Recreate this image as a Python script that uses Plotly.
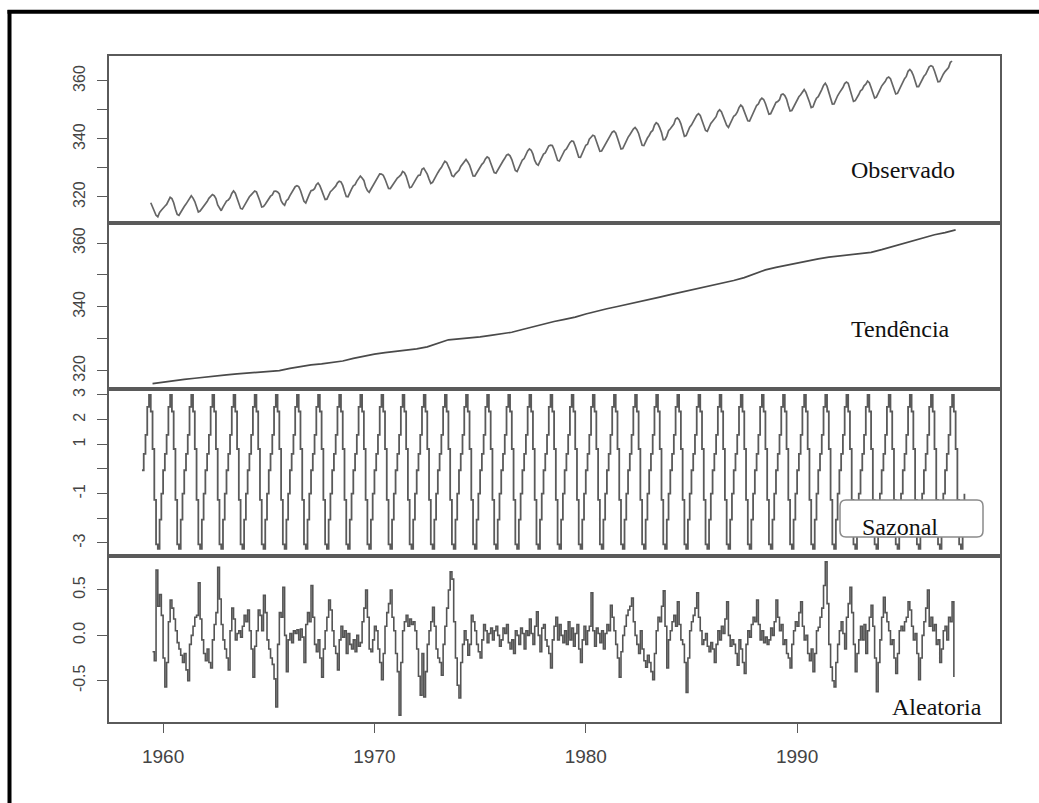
import plotly.graph_objects as go
from plotly.subplots import make_subplots

# ---------------- DATA ----------------
# Observado: monthly CO2, Jun 1959 .. May 1997
OBS_START = 1959 + 5 / 12
OBSERVADO = [
    318.00, 316.39, 314.65, 313.68, 313.18, 314.66, 315.43,
    316.27, 316.81, 317.42, 318.87, 319.87, 319.43, 318.01, 315.74, 314.00, 313.68, 314.84, 316.03,
    316.73, 317.54, 318.38, 319.31, 320.42, 319.61, 318.42, 316.63, 314.83, 315.16, 315.94, 316.85,
    317.78, 318.40, 319.53, 320.42, 320.85, 320.45, 319.45, 317.25, 316.11, 315.27, 316.53, 317.53,
    318.58, 318.92, 319.70, 321.22, 322.08, 321.31, 319.58, 317.61, 316.05, 315.83, 316.91, 318.20,
    319.41, 320.07, 320.74, 321.40, 322.06, 321.73, 320.27, 318.54, 316.54, 316.71, 317.53, 318.55,
    319.27, 320.28, 320.73, 321.97, 322.00, 321.71, 321.05, 318.71, 317.66, 317.14, 318.70, 319.25,
    320.46, 321.43, 322.23, 323.54, 323.91, 323.59, 322.24, 320.20, 318.48, 317.94, 319.63, 320.87,
    322.17, 322.34, 322.88, 324.25, 324.83, 323.93, 322.38, 320.76, 319.10, 319.24, 320.56, 321.80,
    322.40, 322.99, 323.73, 324.86, 325.40, 325.20, 323.98, 321.95, 320.18, 320.09, 321.16, 322.74,
    323.83, 324.26, 325.47, 326.50, 327.21, 326.54, 325.72, 323.50, 322.22, 321.62, 322.69, 323.95,
    324.89, 325.82, 326.77, 327.97, 327.91, 327.50, 326.18, 324.53, 322.93, 322.90, 323.85, 324.96,
    326.01, 326.51, 327.01, 327.62, 328.76, 328.40, 327.20, 325.27, 323.20, 323.40, 324.63, 325.85,
    326.60, 327.47, 327.58, 329.56, 329.90, 328.92, 327.88, 326.16, 324.68, 325.04, 326.34, 327.39,
    328.37, 329.40, 330.14, 331.33, 332.31, 331.90, 330.70, 329.15, 327.35, 327.02, 327.99, 328.48,
    329.18, 330.55, 331.32, 332.48, 332.92, 332.08, 331.01, 329.23, 327.27, 327.21, 328.29, 329.41,
    330.23, 331.25, 331.87, 333.14, 333.80, 333.43, 331.73, 329.90, 328.40, 328.17, 329.32, 330.59,
    331.58, 332.39, 333.33, 334.41, 334.71, 334.17, 332.89, 330.77, 329.14, 328.78, 330.14, 331.52,
    332.75, 333.24, 334.53, 335.90, 336.57, 336.10, 334.76, 332.59, 331.42, 330.98, 332.24, 333.68,
    334.80, 335.22, 336.47, 337.59, 337.84, 337.72, 336.37, 334.51, 332.60, 332.38, 333.75, 334.78,
    336.05, 336.59, 337.79, 338.71, 339.30, 339.12, 337.56, 335.92, 333.75, 333.70, 335.12, 336.56,
    337.84, 338.19, 339.91, 340.60, 341.29, 341.00, 339.39, 337.43, 335.72, 335.84, 336.93, 338.04,
    339.06, 340.30, 341.21, 342.33, 342.74, 342.08, 340.32, 338.26, 336.52, 336.68, 338.19, 339.44,
    340.57, 341.44, 342.53, 343.39, 343.96, 343.18, 341.88, 339.65, 337.81, 337.69, 339.09, 340.32,
    341.20, 342.35, 342.93, 344.77, 345.58, 345.14, 343.81, 342.21, 339.69, 339.82, 340.98, 342.82,
    343.52, 344.33, 345.11, 346.88, 347.25, 346.62, 345.22, 343.11, 340.90, 341.18, 342.80, 344.04,
    344.79, 345.82, 347.25, 348.17, 348.74, 348.07, 346.38, 344.51, 342.92, 342.62, 344.06, 345.38,
    346.11, 346.78, 347.68, 349.37, 350.03, 349.37, 347.76, 345.73, 344.68, 343.99, 345.48, 346.72,
    347.84, 348.29, 349.23, 350.80, 351.66, 351.07, 349.33, 347.92, 346.27, 346.18, 347.64, 348.78,
    350.25, 351.54, 352.05, 353.41, 354.04, 353.62, 352.22, 350.27, 348.55, 348.72, 349.91, 351.18,
    352.60, 352.92, 353.53, 355.26, 355.52, 354.97, 353.75, 351.52, 349.64, 349.83, 351.14, 352.37,
    353.50, 354.55, 355.23, 356.04, 357.00, 356.07, 354.67, 352.76, 350.82, 351.04, 352.69, 354.07,
    354.59, 355.63, 357.03, 358.48, 359.22, 358.12, 356.06, 353.92, 352.05, 352.11, 353.64, 354.89,
    355.88, 356.63, 357.72, 359.07, 359.58, 359.17, 356.94, 354.92, 352.94, 353.23, 354.09, 355.33,
    356.63, 357.10, 358.32, 358.91, 359.97, 359.40, 357.74, 355.93, 354.09, 354.44, 355.84, 357.07,
    358.23, 359.03, 359.80, 361.00, 361.34, 360.79, 359.23, 357.40, 355.52, 355.73, 357.06, 358.25,
    359.79, 360.76, 361.57, 363.32, 363.94, 363.24, 361.90, 359.68, 358.05, 358.05, 359.40, 360.70,
    361.62, 362.28, 363.52, 364.87, 365.27, 364.96, 363.41, 361.41, 359.73, 359.79, 361.16, 362.31,
    363.23, 364.06, 364.61, 366.40, 366.84,
]

# Tendencia: read every half year, Jul 1959 .. Jul 1997
TREND_START = 1959.5
TREND_STEP = 0.5
TENDENCIA = [
    315.97, 316.45, 316.91, 317.28, 317.64, 318.05, 318.45, 318.72, 318.99, 319.30,
    319.62, 319.80, 320.04, 320.75, 321.38, 321.80, 322.16, 322.58, 323.04, 323.85,
    324.62, 325.20, 325.68, 326.00, 326.32, 326.85, 327.45, 328.55, 329.68, 329.95,
    330.18, 330.62, 331.08, 331.55, 332.05, 332.90, 333.78, 334.62, 335.41, 336.10,
    336.78, 337.75, 338.68, 339.40, 340.10, 340.78, 341.44, 342.20, 343.03, 343.82,
    344.58, 345.30, 346.04, 346.70, 347.39, 348.25, 349.16, 350.40, 351.56, 352.35,
    353.07, 353.72, 354.35, 355.00, 355.57, 356.00, 356.38, 356.70, 357.07, 357.92,
    358.82, 359.82, 360.80, 361.70, 362.59, 363.25, 364.10,
]

# Sazonal: monthly, Jan 1959 .. Dec 1997
SEAS_START = 1959.0
SAZONAL = [
    -0.05, 0.61, 1.38, 2.52, 3.00, 2.33, 0.81, -1.25, -3.06, -3.24, -2.05, -1.00,
    -0.05, 0.61, 1.38, 2.52, 3.00, 2.33, 0.81, -1.25, -3.06, -3.24, -2.05, -1.00,
    -0.05, 0.61, 1.38, 2.52, 3.00, 2.33, 0.81, -1.25, -3.06, -3.24, -2.05, -1.00,
    -0.05, 0.61, 1.38, 2.52, 3.00, 2.33, 0.81, -1.25, -3.06, -3.24, -2.05, -1.00,
    -0.05, 0.61, 1.38, 2.52, 3.00, 2.33, 0.81, -1.25, -3.06, -3.24, -2.05, -1.00,
    -0.05, 0.61, 1.38, 2.52, 3.00, 2.33, 0.81, -1.25, -3.06, -3.24, -2.05, -1.00,
    -0.05, 0.61, 1.38, 2.52, 3.00, 2.33, 0.81, -1.25, -3.06, -3.24, -2.05, -1.00,
    -0.05, 0.61, 1.38, 2.52, 3.00, 2.33, 0.81, -1.25, -3.06, -3.24, -2.05, -1.00,
    -0.05, 0.61, 1.38, 2.52, 3.00, 2.33, 0.81, -1.25, -3.06, -3.24, -2.05, -1.00,
    -0.05, 0.61, 1.38, 2.52, 3.00, 2.33, 0.81, -1.25, -3.06, -3.24, -2.05, -1.00,
    -0.05, 0.61, 1.38, 2.52, 3.00, 2.33, 0.81, -1.25, -3.06, -3.24, -2.05, -1.00,
    -0.05, 0.61, 1.38, 2.52, 3.00, 2.33, 0.81, -1.25, -3.06, -3.24, -2.05, -1.00,
    -0.05, 0.61, 1.38, 2.52, 3.00, 2.33, 0.81, -1.25, -3.06, -3.24, -2.05, -1.00,
    -0.05, 0.61, 1.38, 2.52, 3.00, 2.33, 0.81, -1.25, -3.06, -3.24, -2.05, -1.00,
    -0.05, 0.61, 1.38, 2.52, 3.00, 2.33, 0.81, -1.25, -3.06, -3.24, -2.05, -1.00,
    -0.05, 0.61, 1.38, 2.52, 3.00, 2.33, 0.81, -1.25, -3.06, -3.24, -2.05, -1.00,
    -0.05, 0.61, 1.38, 2.52, 3.00, 2.33, 0.81, -1.25, -3.06, -3.24, -2.05, -1.00,
    -0.05, 0.61, 1.38, 2.52, 3.00, 2.33, 0.81, -1.25, -3.06, -3.24, -2.05, -1.00,
    -0.05, 0.61, 1.38, 2.52, 3.00, 2.33, 0.81, -1.25, -3.06, -3.24, -2.05, -1.00,
    -0.05, 0.61, 1.38, 2.52, 3.00, 2.33, 0.81, -1.25, -3.06, -3.24, -2.05, -1.00,
    -0.05, 0.61, 1.38, 2.52, 3.00, 2.33, 0.81, -1.25, -3.06, -3.24, -2.05, -1.00,
    -0.05, 0.61, 1.38, 2.52, 3.00, 2.33, 0.81, -1.25, -3.06, -3.24, -2.05, -1.00,
    -0.05, 0.61, 1.38, 2.52, 3.00, 2.33, 0.81, -1.25, -3.06, -3.24, -2.05, -1.00,
    -0.05, 0.61, 1.38, 2.52, 3.00, 2.33, 0.81, -1.25, -3.06, -3.24, -2.05, -1.00,
    -0.05, 0.61, 1.38, 2.52, 3.00, 2.33, 0.81, -1.25, -3.06, -3.24, -2.05, -1.00,
    -0.05, 0.61, 1.38, 2.52, 3.00, 2.33, 0.81, -1.25, -3.06, -3.24, -2.05, -1.00,
    -0.05, 0.61, 1.38, 2.52, 3.00, 2.33, 0.81, -1.25, -3.06, -3.24, -2.05, -1.00,
    -0.05, 0.61, 1.38, 2.52, 3.00, 2.33, 0.81, -1.25, -3.06, -3.24, -2.05, -1.00,
    -0.05, 0.61, 1.38, 2.52, 3.00, 2.33, 0.81, -1.25, -3.06, -3.24, -2.05, -1.00,
    -0.05, 0.61, 1.38, 2.52, 3.00, 2.33, 0.81, -1.25, -3.06, -3.24, -2.05, -1.00,
    -0.05, 0.61, 1.38, 2.52, 3.00, 2.33, 0.81, -1.25, -3.06, -3.24, -2.05, -1.00,
    -0.05, 0.61, 1.38, 2.52, 3.00, 2.33, 0.81, -1.25, -3.06, -3.24, -2.05, -1.00,
    -0.05, 0.61, 1.38, 2.52, 3.00, 2.33, 0.81, -1.25, -3.06, -3.24, -2.05, -1.00,
    -0.05, 0.61, 1.38, 2.52, 3.00, 2.33, 0.81, -1.25, -3.06, -3.24, -2.05, -1.00,
    -0.05, 0.61, 1.38, 2.52, 3.00, 2.33, 0.81, -1.25, -3.06, -3.24, -2.05, -1.00,
    -0.05, 0.61, 1.38, 2.52, 3.00, 2.33, 0.81, -1.25, -3.06, -3.24, -2.05, -1.00,
    -0.05, 0.61, 1.38, 2.52, 3.00, 2.33, 0.81, -1.25, -3.06, -3.24, -2.05, -1.00,
    -0.05, 0.61, 1.38, 2.52, 3.00, 2.33, 0.81, -1.25, -3.06, -3.24, -2.05, -1.00,
    -0.05, 0.61, 1.38, 2.52, 3.00, 2.33, 0.81, -1.25, -3.06, -3.24, -2.05, -1.00,
]

# Aleatoria: monthly, Jul 1959 .. Jun 1997
RAND_START = 1959.5
ALEATORIA = [
    -0.18, -0.28, 0.72, 0.32, 0.45, 0.22,
    -0.25, -0.57, -0.30, 0.15, 0.39, 0.30, 0.18, 0.05, -0.08, -0.15, -0.22, -0.30,
    -0.20, -0.38, -0.50, -0.10, 0.00, 0.10, 0.20, 0.22, 0.58, 0.18, -0.05, -0.20,
    -0.28, -0.15, -0.30, -0.36, -0.05, 0.12, 0.25, 0.75, 0.40, 0.12, -0.05, -0.15,
    -0.25, -0.38, 0.05, 0.30, 0.18, -0.05, 0.02, 0.05, -0.02, 0.10, 0.22, 0.15,
    0.28, 0.05, -0.15, -0.46, -0.12, 0.05, 0.28, 0.22, 0.05, 0.44, 0.25, -0.05,
    -0.15, -0.25, -0.32, -0.48, -0.79, -0.10, 0.25, 0.20, 0.53, 0.00, -0.40, -0.05,
    0.02, -0.08, 0.05, 0.02, 0.06, -0.05, 0.07, -0.02, -0.30, 0.12, 0.25, 0.15,
    0.55, 0.20, -0.10, -0.18, -0.05, -0.25, -0.46, -0.15, 0.05, 0.20, 0.39, 0.28,
    0.05, -0.12, -0.20, -0.38, -0.05, 0.10, -0.02, 0.05, -0.20, 0.02, -0.10, -0.15,
    -0.05, -0.18, 0.00, -0.12, -0.08, 0.15, 0.30, 0.50, 0.20, -0.15, -0.18, -0.05,
    0.10, 0.05, -0.15, -0.30, -0.49, -0.20, 0.10, 0.25, 0.35, 0.50, 0.20, 0.05,
    -0.20, -0.40, -0.88, -0.30, 0.05, 0.15, 0.22, 0.10, 0.18, 0.12, 0.15, 0.05,
    -0.15, -0.45, -0.66, -0.20, -0.68, -0.40, -0.10, 0.05, 0.15, 0.31, 0.10, -0.15,
    -0.25, -0.30, -0.44, -0.10, 0.10, 0.30, 0.50, 0.70, 0.62, 0.15, -0.25, -0.55,
    -0.69, -0.30, -0.10, 0.05, -0.05, -0.22, -0.10, 0.22, 0.15, 0.05, -0.10, -0.18,
    -0.25, -0.05, 0.12, 0.05, -0.08, 0.02, 0.08, -0.05, 0.05, 0.10, 0.00, -0.12,
    -0.05, 0.08, 0.02, 0.12, -0.08, -0.15, -0.05, -0.20, 0.05, 0.00, -0.10, 0.08,
    0.02, -0.15, 0.05, 0.00, 0.18, 0.02, -0.10, 0.10, 0.26, 0.00, -0.18, 0.08,
    0.12, -0.05, -0.12, -0.20, -0.36, -0.05, 0.10, 0.20, -0.05, 0.12, 0.00, -0.08,
    0.05, -0.10, 0.15, -0.05, 0.08, -0.12, 0.02, 0.12, -0.15, -0.30, -0.05, 0.10,
    -0.10, 0.05, 0.10, 0.47, 0.05, -0.12, 0.08, 0.02, -0.08, 0.05, -0.15, 0.02,
    0.12, 0.05, 0.33, 0.20, 0.05, -0.10, -0.25, -0.46, -0.18, 0.00, 0.10, 0.22,
    0.28, 0.32, 0.41, 0.15, 0.00, -0.10, -0.20, 0.05, -0.15, -0.28, -0.35, -0.22,
    -0.30, -0.40, -0.49, -0.20, 0.05, 0.20, 0.15, 0.32, 0.49, 0.10, -0.36, -0.05,
    0.05, 0.15, 0.22, 0.10, 0.37, 0.12, -0.05, -0.10, -0.30, -0.63, -0.25, 0.05,
    0.15, 0.22, 0.30, 0.47, 0.20, 0.05, -0.10, -0.05, 0.02, -0.12, -0.18, -0.08,
    -0.15, -0.30, -0.10, 0.05, -0.05, 0.10, 0.02, 0.18, 0.37, 0.00, -0.12, -0.05,
    -0.10, -0.20, -0.33, -0.05, -0.15, -0.30, -0.42, -0.10, 0.05, -0.02, 0.12, 0.20,
    0.15, 0.39, 0.12, -0.05, 0.05, -0.08, -0.02, -0.10, -0.05, 0.08, 0.00, 0.15,
    0.39, 0.20, 0.05, 0.12, -0.10, -0.05, -0.20, -0.25, -0.36, -0.10, 0.05, 0.15,
    0.10, 0.25, 0.37, 0.10, -0.05, 0.00, -0.20, -0.28, -0.15, -0.40, -0.20, 0.05,
    0.09, 0.20, 0.30, 0.55, 0.81, 0.35, -0.10, -0.35, -0.50, -0.57, -0.30, -0.10,
    0.05, 0.15, 0.02, -0.15, 0.20, 0.35, 0.53, 0.25, -0.10, -0.40, -0.20, -0.05,
    0.10, -0.05, 0.12, -0.20, 0.05, 0.20, 0.33, 0.10, -0.25, -0.62, -0.30, -0.05,
    0.20, 0.42, 0.25, 0.15, 0.05, -0.10, -0.05, -0.25, -0.42, -0.20, 0.05, 0.10,
    0.05, 0.15, 0.20, 0.37, 0.28, 0.10, -0.05, 0.02, -0.20, -0.49, -0.25, 0.00,
    0.15, 0.30, 0.50, 0.10, 0.20, 0.05, 0.12, -0.10, -0.05, -0.30, -0.15, 0.05,
    0.10, -0.05, 0.20, 0.15, 0.37, -0.46,
]

PANEL_LABELS = ["Observado", "Tendência", "Sazonal", "Aleatoria"]
X_TICKS = [1960, 1970, 1980, 1990]
Y_TICKS = [
    ([320, 330, 340, 350, 360], ["320", "", "340", "", "360"]),
    ([320, 330, 340, 350, 360], ["320", "", "340", "", "360"]),
    ([-3, -2, -1, 0, 1, 2, 3], ["-3", "", "-1", "", "1", "2", "3"]),
    ([-0.5, 0.0, 0.5], ["-0.5", "0.0", "0.5"]),
]
Y_RANGES = [(311.2, 368.6), (314.27, 366.42), (-3.507, 3.243), (-0.955, 0.880)]
X_RANGE = (1957.44, 1999.6)

# ---------------- FIGURE ----------------
W, H = 1039, 803
ML, MR, MT, MB = 109, 39, 56, 81
PW, PH = W - ML - MR, H - MT - MB


def px(xp):
    return (xp - ML) / PW


def py(yp):
    return (H - MB - yp) / PH


def monthly_x(start, n, step=1 / 12):
    return [start + i * step for i in range(n)]


fig = make_subplots(rows=4, cols=1, shared_xaxes=True, vertical_spacing=0)

series = [
    (monthly_x(OBS_START, len(OBSERVADO)), OBSERVADO, "#666666", 1.7, "linear"),
    (monthly_x(TREND_START, len(TENDENCIA), TREND_STEP), TENDENCIA, "#4a4a4a", 1.7, "linear"),
    (monthly_x(SEAS_START, len(SAZONAL)), SAZONAL, "#5a5a5a", 1.8, "hv"),
    (monthly_x(RAND_START, len(ALEATORIA)), ALEATORIA, "#555555", 1.6, "hv"),
]
for i, (xs, ys, col, w, shape) in enumerate(series):
    fig.add_trace(
        go.Scatter(x=xs, y=ys, mode="lines", line=dict(color=col, width=w, shape=shape),
                   hoverinfo="skip", showlegend=False),
        row=i + 1, col=1,
    )

TICK_FONT = dict(family="Liberation Sans, Arial, sans-serif", size=16, color="#444444")
for i in range(4):
    xa = "xaxis" if i == 0 else f"xaxis{i + 1}"
    ya = "yaxis" if i == 0 else f"yaxis{i + 1}"
    bottom = i == 3
    fig.layout[xa].update(
        range=list(X_RANGE), showgrid=False, zeroline=False,
        showline=True, mirror=True, linecolor="#5a5a5a", linewidth=1.6,
        ticks="outside" if bottom else "", ticklen=9, tickwidth=1.4, tickcolor="#5a5a5a",
        tickvals=X_TICKS, ticktext=[str(v) for v in X_TICKS],
        showticklabels=bottom,
        tickfont=dict(family="Liberation Sans, Arial, sans-serif", size=19, color="#444444"),
        ticklabelstandoff=7,
    )
    tv, tt = Y_TICKS[i]
    fig.layout[ya].update(
        range=list(Y_RANGES[i]), showgrid=False, zeroline=False,
        showline=True, mirror=True, linecolor="#5a5a5a", linewidth=1.6,
        ticks="outside", ticklen=10, tickwidth=1.4, tickcolor="#5a5a5a",
        tickvals=tv, ticktext=tt, tickangle=-90, tickfont=TICK_FONT,
        ticklabelstandoff=6,
    )

SERIF = dict(family="Liberation Serif, Times New Roman, serif", size=24, color="#111111")
label_pos = [(903, 170), (900, 329), (900, 527), (937, 707)]
for text, (xp, yp) in zip(PANEL_LABELS, label_pos):
    fig.add_annotation(text=text, x=px(xp), y=py(yp), xref="paper", yref="paper",
                       xanchor="center", yanchor="middle", showarrow=False, font=SERIF)


def rounded_rect(x0, y0, x1, y1, r):
    pts = [
        f"M {px(x0 + r)},{py(y0)}",
        f"L {px(x1 - r)},{py(y0)}",
        f"Q {px(x1)},{py(y0)} {px(x1)},{py(y0 + r)}",
        f"L {px(x1)},{py(y1 - r)}",
        f"Q {px(x1)},{py(y1)} {px(x1 - r)},{py(y1)}",
        f"L {px(x0 + r)},{py(y1)}",
        f"Q {px(x0)},{py(y1)} {px(x0)},{py(y1 - r)}",
        f"L {px(x0)},{py(y0 + r)}",
        f"Q {px(x0)},{py(y0)} {px(x0 + r)},{py(y0)}",
        "Z",
    ]
    return " ".join(pts)


shapes = [
    dict(type="path", path=rounded_rect(840, 500, 983, 537, 6), xref="paper", yref="paper",
         line=dict(color="#8a8a8a", width=1.5), fillcolor="white", layer="above"),
    # outer black frame (left and top edges)
    dict(type="line", xref="paper", yref="paper", x0=px(9.5), x1=px(9.5), y0=py(10), y1=py(803),
         line=dict(color="black", width=4)),
    dict(type="line", xref="paper", yref="paper", x0=px(7.5), x1=px(1039), y0=py(11.8), y1=py(11.8),
         line=dict(color="black", width=4)),
]

fig.update_layout(
    shapes=shapes,
    width=W, height=H,
    margin=dict(l=ML, r=MR, t=MT, b=MB, pad=0),
    paper_bgcolor="white", plot_bgcolor="white",
    showlegend=False,
)

fig.write_html(
    "out.html",
    config={"displayModeBar": False},
    post_script="document.body.style.margin='0px';document.body.style.overflow='hidden';",
)
